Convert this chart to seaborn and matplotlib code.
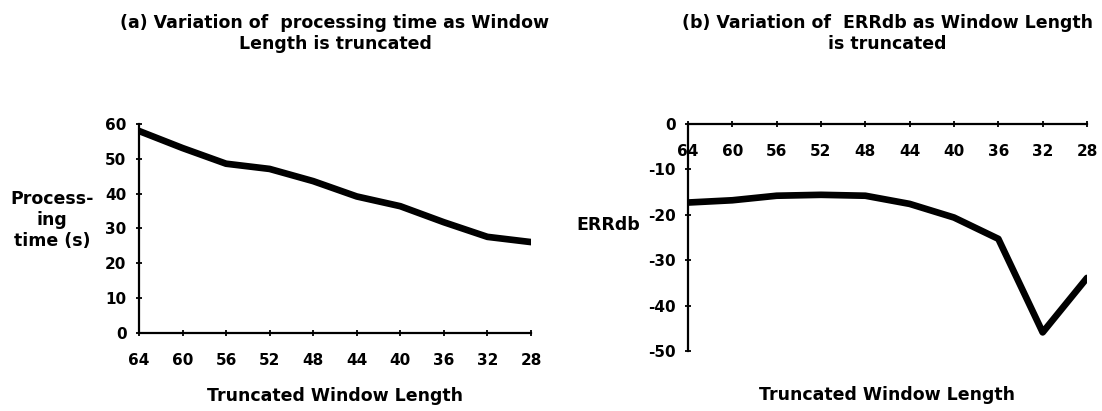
import matplotlib
matplotlib.use("Agg")
import matplotlib.pyplot as plt
import seaborn as sns
import pandas as pd

window_length = [64, 60, 56, 52, 48, 44, 40, 36, 32, 28]
processing_time = [58.0, 53.1, 48.6, 47.1, 43.6, 39.2, 36.4, 31.8, 27.6, 26.1]
errdb = [-17.3, -16.8, -15.8, -15.6, -15.8, -17.6, -20.6, -25.3, -45.9, -33.9]

title_a = "(a) Variation of  processing time as Window\nLength is truncated"
title_b = "(b) Variation of  ERRdb as Window Length\nis truncated"
xlabel = "Truncated Window Length"
ylabel_a = "Process-\ning\ntime (s)"
ylabel_b = "ERRdb"

sns.set_style("white")
plt.rcParams['font.family'] = ['DejaVu Sans']
plt.rcParams['font.weight'] = 'bold'
plt.rcParams['text.color'] = 'black'
plt.rcParams['axes.labelcolor'] = 'black'

df = pd.DataFrame({"wl": window_length, "pt": processing_time, "err": errdb})

fig = plt.figure(figsize=(11.02, 4.11), dpi=100)
ax1 = fig.add_axes([0.1261, 0.1898, 0.3557, 0.5085])
ax2 = fig.add_axes([0.6243, 0.146, 0.3621, 0.5523])

line_kw = dict(color="black", linewidth=4.8, solid_joinstyle="round", solid_capstyle="round")
sns.lineplot(data=df, x="wl", y="pt", ax=ax1, **line_kw)
sns.lineplot(data=df, x="wl", y="err", ax=ax2, **line_kw)

for ax in (ax1, ax2):
    ax.set_xlim(64, 28)
    ax.set_xticks(window_length)
    ax.set_xticklabels([str(v) for v in window_length])
    for s in ("top", "right"):
        ax.spines[s].set_visible(False)
    for s in ("left", "bottom"):
        ax.spines[s].set_color("black")
        ax.spines[s].set_linewidth(1.6)
    ax.tick_params(axis="both", which="major", bottom=True, left=True, direction="inout",
                   length=5, width=1.3, color="black", labelcolor="black", labelsize=11)
    ax.tick_params(axis="x", pad=12)
    ax.tick_params(axis="y", pad=6.5)
    ax.set_facecolor("white")

ax1.set_ylim(0, 60)
ax1.set_yticks([0, 10, 20, 30, 40, 50, 60])
ax1.set_yticklabels(["0", "10", "20", "30", "40", "50", "60"])
ax1.set_title(title_a, fontsize=12.5, fontweight="bold", pad=54, color="black")
ax1.set_xlabel(xlabel, fontsize=12.5, fontweight="bold", va="center")
ax1.xaxis.set_label_coords(0.5, -0.30)
ax1.set_ylabel(ylabel_a, fontsize=12.5, fontweight="bold", rotation=0, ha="center", va="center")
ax1.yaxis.set_label_coords(-0.222, 0.54)

ax2.set_ylim(-50, 0)
ax2.set_yticks([-50, -40, -30, -20, -10, 0])
ax2.set_yticklabels(["-50", "-40", "-30", "-20", "-10", "0"])
ax2.spines["bottom"].set_position(("data", 0))
ax2.set_title(title_b, fontsize=12.5, fontweight="bold", pad=54, color="black")
ax2.set_xlabel(xlabel, fontsize=12.5, fontweight="bold", va="center")
ax2.xaxis.set_label_coords(0.5, -0.195)
ax2.set_ylabel(ylabel_b, fontsize=12.5, fontweight="bold", rotation=0, ha="center", va="center")
ax2.yaxis.set_label_coords(-0.20, 0.555)

for ax in (ax1, ax2):
    for lab in ax.get_xticklabels() + ax.get_yticklabels():
        lab.set_fontweight("bold")
        lab.set_color("black")

fig.savefig("out.png", dpi=100, facecolor="white")
